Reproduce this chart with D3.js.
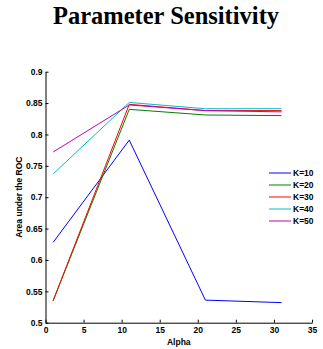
<!DOCTYPE html>
<html>
<head>
<meta charset="utf-8">
<script src="https://cdn.jsdelivr.net/npm/d3@7"></script>
<style>
  body { margin: 0; background: #fff; }
  svg { display: block; }
</style>
</head>
<body>
<script>
// chart values
const alphas = [1, 11, 21, 31];
const seriesNames = ["K=10", "K=20", "K=30", "K=40", "K=50"];
const k10 = [0.628, 0.791, 0.536, 0.532];
const k20 = [0.535, 0.840, 0.831, 0.830];
const k30 = [0.535, 0.848, 0.838, 0.838];
const k40 = [0.737, 0.851, 0.841, 0.841];
const k50 = [0.772, 0.847, 0.838, 0.836];
const seriesValues = [k10, k20, k30, k40, k50];
const colors = ["#0000ff", "#008000", "#ff0000", "#00bfbf", "#bf00bf"];
const xTicks = [0, 5, 10, 15, 20, 25, 30, 35];
const yTicks = [0.5, 0.55, 0.6, 0.65, 0.7, 0.75, 0.8, 0.85, 0.9];

const width = 323, height = 349;
const svg = d3.select("body").append("svg")
  .attr("width", width).attr("height", height);

const x = d3.scaleLinear().domain([0, 35]).range([45.5, 312]);
const y = d3.scaleLinear().domain([0.5, 0.9]).range([322.7, 71.7]);

svg.append("text")
  .attr("x", 166).attr("y", 24)
  .attr("text-anchor", "middle")
  .attr("font-family", "Liberation Serif, Times New Roman, serif")
  .attr("font-weight", "bold")
  .attr("font-size", 24.5)
  .text("Parameter Sensitivity");

// axes, ticks pointing inward
const xAxis = svg.append("g")
  .attr("transform", `translate(0,${y(0.5)})`)
  .call(d3.axisBottom(x).tickValues(xTicks).tickSizeInner(-3).tickSizeOuter(0).tickPadding(4)
    .tickFormat(d3.format("d")));
const yAxis = svg.append("g")
  .attr("transform", `translate(${x(0)},0)`)
  .call(d3.axisLeft(y).tickValues(yTicks).tickSizeInner(-3).tickSizeOuter(0).tickPadding(3)
    .tickFormat(d => d3.format(".2~f")(d)));

[xAxis, yAxis].forEach(a => {
  a.select(".domain").attr("stroke", "#000").attr("stroke-width", 1);
  a.selectAll(".tick line").attr("stroke", "#000");
  a.selectAll("text")
    .attr("fill", "#000")
    .attr("font-family", "Liberation Sans, Arial, sans-serif")
    .attr("font-weight", "bold")
    .attr("font-size", 8.5);
});

svg.append("text")
  .attr("x", x(17.5)).attr("y", 345)
  .attr("text-anchor", "middle")
  .attr("font-family", "Liberation Sans, Arial, sans-serif")
  .attr("font-weight", "bold")
  .attr("font-size", 8.5)
  .text("Alpha");

svg.append("text")
  .attr("transform", `translate(22,${y(0.7)}) rotate(-90)`)
  .attr("text-anchor", "middle")
  .attr("font-family", "Liberation Sans, Arial, sans-serif")
  .attr("font-weight", "bold")
  .attr("font-size", 8.5)
  .text("Area under the ROC");

const line = d3.line()
  .x((d, i) => x(alphas[i]))
  .y(d => y(d));

svg.selectAll("path.series")
  .data(seriesValues)
  .join("path")
  .attr("class", "series")
  .attr("d", line)
  .attr("fill", "none")
  .attr("stroke", (d, i) => colors[i])
  .attr("stroke-width", 1);

// legend
const legend = svg.append("g").attr("transform", "translate(269,173)");
const rows = legend.selectAll("g")
  .data(seriesNames)
  .join("g")
  .attr("transform", (d, i) => `translate(0,${i * 12})`);
rows.append("line")
  .attr("x1", 0).attr("x2", 22)
  .attr("stroke", (d, i) => colors[i])
  .attr("stroke-width", 1);
rows.append("text")
  .attr("x", 24).attr("y", 3.3)
  .attr("font-family", "Liberation Sans, Arial, sans-serif")
  .attr("font-weight", "bold")
  .attr("font-size", 8.5)
  .text(d => d);
</script>
</body>
</html>
